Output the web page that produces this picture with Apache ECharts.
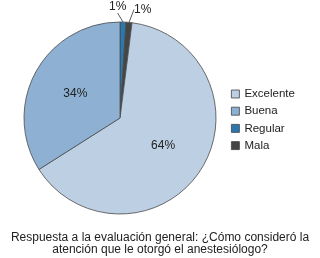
<!DOCTYPE html>
<html>
<head>
<meta charset="utf-8">
<script src="https://cdn.jsdelivr.net/npm/echarts@6/dist/echarts.min.js"></script>
<style>
html,body{margin:0;padding:0;background:#fff;}
#c{width:320px;height:258px;}
</style>
</head>
<body>
<div id="c"></div>
<script>
// Draw order (clockwise from top)
var categories = ['Regular', 'Mala', 'Excelente', 'Buena'];
var values = [1, 1, 64, 34];
var legendOrder = ['Excelente', 'Buena', 'Regular', 'Mala'];
var sliceColors = { 'Excelente': '#bccfe3', 'Buena': '#8eb1d3', 'Regular': '#2b78ae', 'Mala': '#454545' };
var titleText = 'Respuesta a la evaluación general: ¿Cómo consideró la\natención que le otorgó el anestesiólogo?';

var font = 'Liberation Sans, Arial, Helvetica, sans-serif';
var data = categories.map(function (name, i) {
  var small = values[i] < 5;
  return {
    name: name,
    value: values[i],
    itemStyle: { color: sliceColors[name] },
    label: small ? { position: 'outside' } : { position: 'inside' },
    labelLine: { show: small }
  };
});

var chart = echarts.init(document.getElementById('c'), null, { renderer: 'canvas' });
chart.setOption({
  animation: false,
  title: {
    text: titleText,
    left: 'center',
    top: 226,
    textStyle: { fontFamily: font, fontSize: 12, fontWeight: 'normal', color: '#222', lineHeight: 12.5 }
  },
  legend: {
    data: legendOrder,
    orient: 'vertical',
    left: 226,
    top: 83,
    itemWidth: 8,
    itemHeight: 8,
    itemGap: 5.2,
    icon: 'rect',
    itemStyle: { borderColor: '#444', borderWidth: 0.8 },
    textStyle: { fontFamily: font, fontSize: 11.5, color: '#222', padding: [0, 0, 0, 0] }
  },
  series: [{
    type: 'pie',
    center: [120, 118],
    radius: 96,
    startAngle: 90,
    clockwise: true,
    avoidLabelOverlap: false,
    itemStyle: { borderColor: '#4a4a4a', borderWidth: 0.8 },
    label: {
      formatter: '{c}%',
      fontFamily: font,
      fontSize: 12,
      color: '#222'
    },
    labelLine: { length: 10, length2: 0, lineStyle: { color: '#333', width: 0.8 } },
    labelLayout: function (p) {
      if (p.dataIndex === 0) {
        return { x: p.labelRect.x - p.labelRect.width - 2, y: p.labelRect.y + p.labelRect.height / 2 - 5, align: 'left' };
      }
      if (p.dataIndex === 1) {
        return { x: p.labelRect.x - 1, y: p.labelRect.y + p.labelRect.height / 2 - 3, align: 'left' };
      }
    },
    data: data
  }]
});
</script>
</body>
</html>
